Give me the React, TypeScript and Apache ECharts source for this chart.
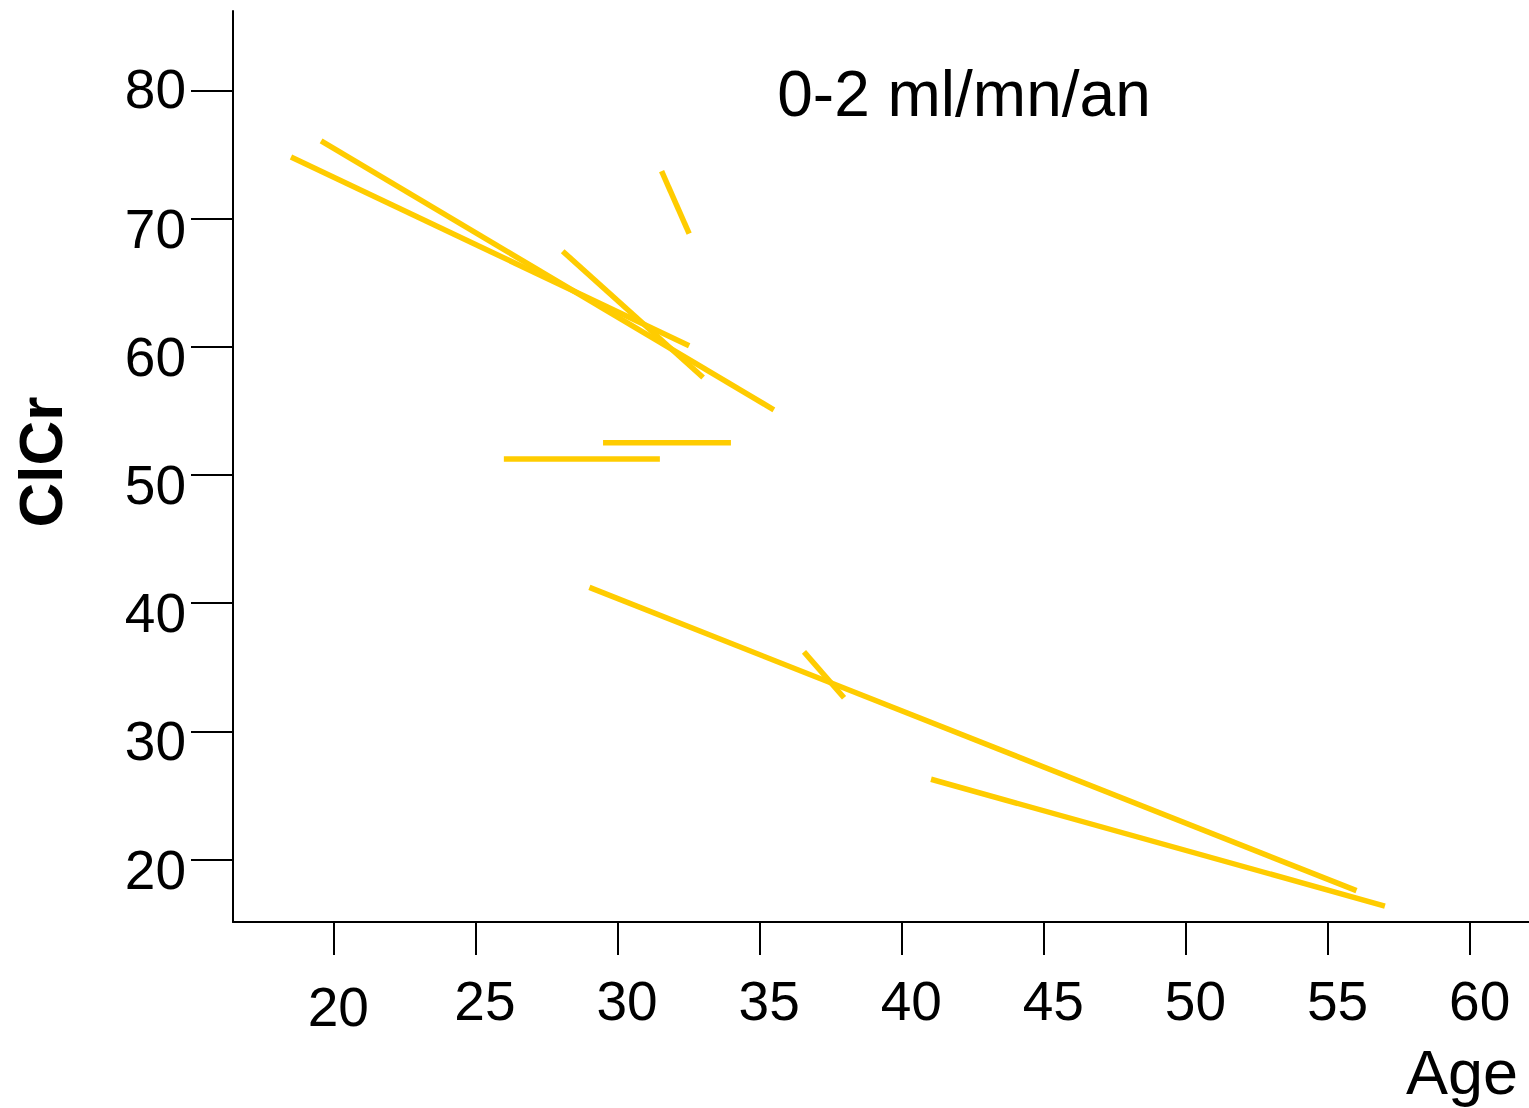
import React, { useEffect, useRef } from "react";
import * as echarts from "echarts";

// Segment endpoints (Age, ClCr)
const ageStart = [18.51, 19.57, 31.55, 28.07, 26.0, 29.49, 29.01, 36.56, 41.03];
const clcrStart = [74.8, 76.05, 73.7, 67.45, 51.24, 52.51, 41.23, 36.2, 26.26];
const ageEnd = [32.52, 35.5, 32.52, 33.01, 31.49, 33.99, 56.0, 37.97, 57.0];
const clcrEnd = [60.08, 55.08, 68.83, 57.6, 51.24, 52.51, 17.57, 32.62, 16.37];

const xTicks = [20, 25, 30, 35, 40, 45, 50, 55, 60];
const yTicks = [20, 30, 40, 50, 60, 70, 80];

const titleText = "0-2 ml/mn/an";
const xName = "Age";
const yName = "ClCr";

const FONT = "'Liberation Sans', Arial, sans-serif";
const LINE_COLOR = "#FFCC00";

export default function App() {
  const ref = useRef<HTMLDivElement>(null);

  useEffect(() => {
    if (!ref.current) return;
    const chart = echarts.init(ref.current, undefined, { renderer: "svg" });

    const series = ageStart.map((x0, i) => ({
      type: "line",
      data: [
        [x0, clcrStart[i]],
        [ageEnd[i], clcrEnd[i]],
      ],
      symbol: "none",
      showSymbol: false,
      silent: true,
      lineStyle: { color: LINE_COLOR, width: 5.5, cap: "butt" },
      itemStyle: { color: LINE_COLOR },
      z: 2,
    }));

    chart.setOption({
      animation: false,
      backgroundColor: "#ffffff",
      grid: { left: 233, right: 0, top: 11, bottom: 186, containLabel: false },
      xAxis: {
        type: "value",
        min: 16.47,
        max: 62.07,
        axisLine: { show: true, onZero: false, lineStyle: { color: "#000", width: 2 } },
        axisTick: {
          show: true,
          inside: false,
          length: 33,
          customValues: xTicks,
          lineStyle: { color: "#000", width: 2 },
        },
        axisLabel: {
          show: true,
          customValues: xTicks,
          margin: 51,
          fontSize: 55,
          fontFamily: FONT,
          color: "#000",
          formatter: (v: number) => (v === 20 ? `{a|${v}}` : `{b|${v}}`),
          rich: {
            a: { fontSize: 55, fontFamily: FONT, color: "#000", padding: [6, 0, 0, 10] },
            b: { fontSize: 55, fontFamily: FONT, color: "#000", padding: [0, 0, 0, 19] },
          },
        },
        splitLine: { show: false },
      },
      yAxis: {
        type: "value",
        min: 15.125,
        max: 86.19,
        axisLine: { show: true, onZero: false, lineStyle: { color: "#000", width: 2 } },
        axisTick: {
          show: true,
          inside: false,
          length: 42,
          customValues: yTicks,
          lineStyle: { color: "#000", width: 2 },
        },
        axisLabel: {
          show: true,
          customValues: yTicks,
          margin: 47,
          fontSize: 55,
          fontFamily: FONT,
          color: "#000",
          formatter: (v: number) => (v === 80 ? `{t|${v}}` : `{s|${v}}`),
          rich: {
            t: { fontSize: 55, fontFamily: FONT, color: "#000", padding: [0, 0, 3, 0] },
            s: { fontSize: 55, fontFamily: FONT, color: "#000", padding: [20, 0, 0, 0] },
          },
        },
        splitLine: { show: false },
      },
      graphic: [
        {
          type: "text",
          x: 964,
          y: 94,
          style: {
            text: titleText,
            fontSize: 64,
            fontFamily: FONT,
            fill: "#000",
            align: "center",
            verticalAlign: "middle",
          },
        },
        {
          type: "text",
          x: 1406,
          y: 1072,
          style: {
            text: xName,
            fontSize: 63,
            fontFamily: FONT,
            fill: "#000",
            align: "left",
            verticalAlign: "middle",
          },
        },
        {
          type: "text",
          x: 40,
          y: 462,
          rotation: Math.PI / 2,
          style: {
            text: yName,
            fontSize: 62,
            fontWeight: "bold",
            fontFamily: FONT,
            fill: "#000",
            align: "center",
            verticalAlign: "middle",
          },
        },
      ],
      series,
    });

    return () => {
      chart.dispose();
    };
  }, []);

  return (
    <div
      ref={ref}
      style={{
        position: "fixed",
        left: 0,
        top: 0,
        width: 1529,
        height: 1108,
        background: "#fff",
      }}
    />
  );
}
